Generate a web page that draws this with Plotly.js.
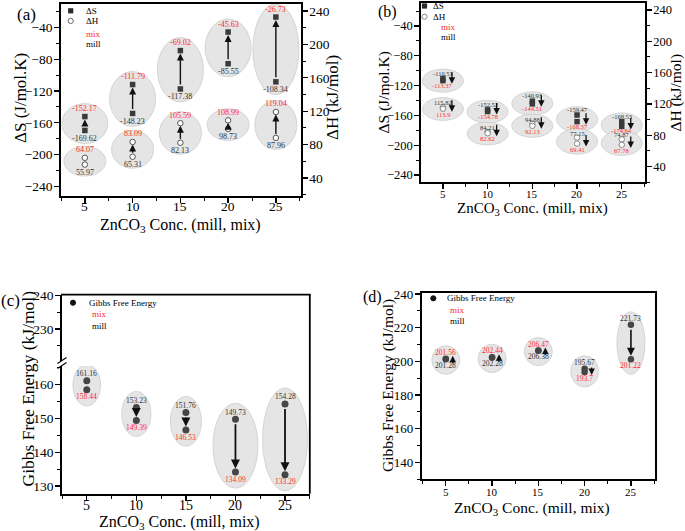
<!DOCTYPE html>
<html><head><meta charset="utf-8">
<script src="https://cdn.plot.ly/plotly-3.0.1.min.js"></script>
<style>html,body{margin:0;padding:0;background:#fff}#chart{width:685px;height:531px}</style>
</head><body><div id="chart"></div>
<script>
// ---------------- DATA ----------------
const conc = [5, 10, 15, 20, 25];
const xTickVals = [5, 10, 15, 20, 25];
// (a)
const aDS_mill = [-169.62, -148.23, -117.38, -85.55, -108.34];
const aDS_mix  = [-152.17, -111.79, -69.02, -45.63, -26.73];
const aDH_mill = [55.97, 65.31, 82.13, 98.73, 87.96];
const aDH_mix  = [64.07, 83.09, 105.59, 108.99, 119.04];
// (b)
const bDS_mill = [-110.53, -152.52, -140.93, -159.47, -168.53];
const bDS_mix  = [-113.37, -154.78, -144.51, -168.37, -174.84];
const bDH_mill = [115.82, 84.21, 94.88, 77.15, 74.87];
const bDH_mix  = [113.9, 82.62, 92.13, 69.41, 67.78];
// (c)
const cG_mill = [161.16, 153.23, 151.76, 149.73, 154.28];
const cG_mix  = [158.44, 149.39, 146.53, 134.09, 133.29];
// (d)
const dG_mill = [201.28, 202.28, 206.38, 195.67, 221.73];
const dG_mix  = [201.56, 202.44, 206.47, 193.7, 201.22];

// ---------------- LAYOUT HELPERS ----------------
const W = 685, H = 531;
const FONT = '"Liberation Serif", "Times New Roman", Times, serif';
const MIXC = '#ff2a2a', MILLC = '#333333';
const fx = p => p / W;
const fy = p => 1 - p / H;

const PA = {x0:61, x1:300.7, top:4, bot:195.8, xr:[2.5,27.6], yl:[-252,-10.3], yr:[18.5,248.5]};
const PB = {x0:421, x1:645, top:2.7, bot:182.3, xr:[2.55,27.6], yl:[-249.8,-8.7], yr:[20,249.3]};
const PC = {x0:62, x1:309.8, top:294.6, hiBot:361, loTop:366, bot:493.7, xr:[2.5,27.5], ylo:[127.7,165.5], yhi:[220.5,240.2]};
const PD = {x0:421.7, x1:655, top:292.7, bot:479.3, xr:[2.4,27.6], y:[130,240.8]};

const sc = (r, len) => len / (r[1] - r[0]);   // px per unit

const common = {showgrid:false, zeroline:false, showline:true, linecolor:'#000', linewidth:1.8,
  ticks:'outside', ticklen:5, tickwidth:1.3, tickcolor:'#000', fixedrange:true};

function xAx(P, anchor, mirror) {
  return Object.assign({}, common, {domain:[fx(P.x0), fx(P.x1)], range:P.xr, anchor:anchor,
    tickmode:'array', tickvals:xTickVals, showticklabels:false,
    minor:{tickmode:'linear', tick0:0, dtick:2.5, ticks:'outside', ticklen:3, tickwidth:1, tickcolor:'#000'},
    mirror:mirror});
}
function yAx(dom, range, anchor, dtick, mdt, fs, extra) {
  return Object.assign({}, common, {domain:dom, range:range, anchor:anchor, tickmode:'linear', tick0:0, dtick:dtick,
    ticklabelstandoff:-1,
    minor:{tickmode:'linear', tick0:0, dtick:mdt, ticks:'outside', ticklen:3, tickwidth:1, tickcolor:'#000'},
    tickfont:{family:FONT, size:fs, color:'#000'}}, extra || {});
}

const shapes = [];
const ann = [];

function ellipse(xref, yref, xc, v1, v2, sx, sy, hwPx, spanF, padPx, shiftPx) {
  const lo = Math.min(v1, v2), hi = Math.max(v1, v2);
  const spanPx = (hi - lo) * sy;
  const halfPx = spanF * spanPx / 2 + padPx;
  const mid = (lo + hi) / 2 - (shiftPx || 0) / sy;
  const hw = (typeof hwPx === 'function' ? hwPx(spanPx) : hwPx) / sx;
  shapes.push({type:'circle', xref:xref, yref:yref, x0:xc - hw, x1:xc + hw,
    y0:mid - halfPx / sy, y1:mid + halfPx / sy,
    fillcolor:'#e5e5e5', line:{color:'#cdcdcd', width:0.8}, layer:'below'});
}
function labels(xref, yref, xs, mill, mix, fs, up, down) {
  xs.forEach((x, i) => {
    const millUp = mill[i] >= mix[i];
    ann.push({xref:xref, yref:yref, x:x, y:mill[i], text:String(mill[i]), showarrow:false,
      font:{family:FONT, size:fs, color:MILLC}, yshift: millUp ? up : -down});
    ann.push({xref:xref, yref:yref, x:x, y:mix[i], text:String(mix[i]), showarrow:false,
      font:{family:FONT, size:fs, color:MIXC}, yshift: millUp ? -down : up});
  });
}
function linkArrows(xref, yref, xs, mill, mix, w, so) {
  xs.forEach((x, i) => {
    ann.push({xref:xref, yref:yref, axref:xref, ayref:yref, x:x, y:mix[i], ax:x, ay:mill[i], text:'',
      showarrow:true, arrowhead:2, arrowsize:1, arrowwidth:w, arrowcolor:'#111', standoff:so, startstandoff:so});
  });
}
function sideArrows(xref, yref, xs, mill, mix, xsh, len) {
  xs.forEach((x, i) => {
    const s = mix[i] > mill[i] ? 1 : -1;
    ann.push({xref:xref, yref:yref, x:x, y:mix[i], ax:0, ay:s * len, text:'', xshift:xsh, yshift:s * 3,
      showarrow:true, arrowhead:2, arrowsize:1, arrowwidth:1.3, arrowcolor:'#111'});
  });
}
function xTickLabels(xref, yPx, fs) {
  xTickVals.forEach(v => {
    ann.push({xref:xref, yref:'paper', x:v, y:fy(yPx), text:String(v), showarrow:false,
      xanchor:'center', yanchor:'middle', font:{family:FONT, size:fs, color:'#000'}});
  });
}

// ----- scales -----
const aSx = sc(PA.xr, PA.x1 - PA.x0), aSyL = sc(PA.yl, PA.bot - PA.top), aSyR = sc(PA.yr, PA.bot - PA.top);
const bSx = sc(PB.xr, PB.x1 - PB.x0), bSyL = sc(PB.yl, PB.bot - PB.top), bSyR = sc(PB.yr, PB.bot - PB.top);
const cSx = sc(PC.xr, PC.x1 - PC.x0), cSy = sc(PC.ylo, PC.bot - PC.loTop);
const dSx = sc(PD.xr, PD.x1 - PD.x0), dSy = sc(PD.y, PD.bot - PD.top);

// (a)
conc.forEach((x, i) => {
  ellipse('x', 'y', x, aDS_mill[i], aDS_mix[i], aSx, aSyL, 23, 1, 13, 0);
  ellipse('x', 'y2', x, aDH_mill[i], aDH_mix[i], aSx, aSyR, 21, 1, 11.5, 0);
});
labels('x', 'y', conc, aDS_mill, aDS_mix, 8, 8, 8);
labels('x', 'y2', conc, aDH_mill, aDH_mix, 8, 8, 8);
linkArrows('x', 'y', conc, aDS_mill, aDS_mix, 1.4, 3);
linkArrows('x', 'y2', conc, aDH_mill, aDH_mix, 1.4, 2.5);
// (b)
conc.forEach((x, i) => {
  ellipse('x2', 'y3', x, bDS_mill[i], bDS_mix[i], bSx, bSyL, 20.5, 0.5, 11, 1);
  ellipse('x2', 'y4', x, bDH_mill[i], bDH_mix[i], bSx, bSyR, 20.5, 0.5, 11, 1);
});
labels('x2', 'y3', conc, bDS_mill, bDS_mix, 6.5, 5.5, 4.5);
labels('x2', 'y4', conc, bDH_mill, bDH_mix, 6.5, 4.5, 5.5);
sideArrows('x2', 'y3', conc, bDS_mill, bDS_mix, 9, 13);
sideArrows('x2', 'y4', conc, bDH_mill, bDH_mix, 9, 13);
// (c)
conc.forEach((x, i) => {
  ellipse('x3', 'y5', x, cG_mill[i], cG_mix[i], cSx, cSy, s => Math.min(12 + 0.2 * s, 22.5), 1, 16, 0);
});
labels('x3', 'y5', conc, cG_mill, cG_mix, 7.5, 7, 7);
linkArrows('x3', 'y5', conc, cG_mill, cG_mix, 1.8, 3.5);
// (d)
conc.forEach((x, i) => {
  ellipse('x4', 'y7', x, dG_mill[i], dG_mix[i], dSx, dSy, 14, 1, 14, 1);
});
labels('x4', 'y7', conc, dG_mill, dG_mix, 7.5, 6.5, 6);
conc.forEach((x, i) => {
  if (Math.abs(dG_mill[i] - dG_mix[i]) * dSy > 15) {
    linkArrows('x4', 'y7', [x], [dG_mill[i]], [dG_mix[i]], 1.6, 3.5);
  } else {
    sideArrows('x4', 'y7', [x], [dG_mill[i]], [dG_mix[i]], 7, 9);
  }
});

// x tick labels
xTickLabels('x', 206, 13.5);
xTickLabels('x2', 194, 11);
xTickLabels('x3', 505, 14);
xTickLabels('x4', 491.7, 11);

// ----- text annotations (paper) -----
function ptxt(x, y, text, size, opts) {
  ann.push(Object.assign({xref:'paper', yref:'paper', x:fx(x), y:fy(y), text:text, showarrow:false,
    xanchor:'center', yanchor:'middle', font:{family:FONT, size:size, color:'#000'}}, opts || {}));
}
// panel labels
ptxt(26, 15, '(a)', 17); ptxt(387.5, 12, '(b)', 16); ptxt(10, 300, '(c)', 17); ptxt(372.5, 297, '(d)', 16);
// axis titles
const XT = 'ZnCO<sub>3</sub> Conc. (mill, mix)';
ptxt(180, 225, XT, 16); ptxt(532, 209, XT, 15); ptxt(179, 522, XT, 16); ptxt(532, 508, XT, 15.5);
ptxt(20, 98, 'ΔS (J/mol.K)', 17, {textangle:-90});
ptxt(332, 98, 'ΔH (kJ/mol)', 17, {textangle:-90});
ptxt(383, 92.5, 'ΔS (J/mol.K)', 15.5, {textangle:-90});
ptxt(675, 92.5, 'ΔH (kJ/mol)', 15.5, {textangle:-90});
ptxt(27, 388.5, 'Gibbs Free Energy (kJ/mol)', 17.5, {textangle:-90});
ptxt(388, 386, 'Gibbs Free Energy (kJ/mol)', 15.5, {textangle:-90});

// legends
function ltxt(x, y, text, color) {
  ptxt(x, y, text, 9, {xanchor:'left', font:{family:FONT, size:9, color:color}});
}
function lsq(cx, cy) {
  shapes.push({type:'rect', xref:'paper', yref:'paper', x0:fx(cx - 2.6), x1:fx(cx + 2.6), y0:fy(cy + 2.6), y1:fy(cy - 2.6),
    fillcolor:'#2a2a2a', line:{width:0}});
}
function lci(cx, cy, fill, col) {
  shapes.push({type:'circle', xref:'paper', yref:'paper', x0:fx(cx - 2.6), x1:fx(cx + 2.6), y0:fy(cy + 2.6), y1:fy(cy - 2.6),
    fillcolor:fill, line:{width:0.9, color:col}});
}
lsq(70.7, 10.8); ltxt(84, 10.8, 'ΔS', '#000');
lci(70.7, 20.9, '#fff', '#555'); ltxt(84, 20.9, 'ΔH', '#000');
ltxt(84, 33.7, 'mix', MIXC); ltxt(84, 43.8, 'mill', '#000');

lsq(424.5, 6); ltxt(431, 6, 'ΔS', '#000');
lci(424.5, 16.7, '#fff', '#777'); ltxt(431, 16.7, 'ΔH', '#000');
ltxt(439, 26.7, 'mix', MIXC); ltxt(439, 37.3, 'mill', '#000');

lci(73, 302.7, '#111', '#111'); ltxt(86.5, 302.7, 'Gibbs Free Energy', '#000');
ltxt(89.5, 313.8, 'mix', MIXC); ltxt(89.5, 325.6, 'mill', '#000');

lci(433.3, 298.3, '#111', '#111'); ltxt(445, 298.3, 'Gibbs Free Energy', '#000');
ltxt(448, 310, 'mix', MIXC); ltxt(448, 320.7, 'mill', '#000');

// (c) frame top/right + break marks
function pline(x0, y0, x1, y1, w) {
  shapes.push({type:'line', xref:'paper', yref:'paper', x0:fx(x0), y0:fy(y0), x1:fx(x1), y1:fy(y1), line:{color:'#000', width:w}});
}
pline(PC.x0 - 0.9, PC.top, PC.x1 + 0.9, PC.top, 1.8);
pline(PC.x1, PC.top, PC.x1, PC.bot, 1.8);
pline(57.5, 363.5, 66.5, 357.5, 1.2);
pline(57.5, 368.5, 66.5, 362.5, 1.2);

// ---------------- TRACES ----------------
const sq = {symbol:'square', size:5.5, color:'#3a3a3a'};
const oc = {symbol:'circle', size:5.5, color:'#fff', line:{color:'#555', width:1}};
const oc2 = {symbol:'circle', size:5.5, color:'#fff', line:{color:'#888', width:1}};
const gc = {symbol:'circle', size:7, color:'#454545'};
const gd = {symbol:'circle', size:6.5, color:'#454545'};
function tr(x, y, xa, ya, m) { return {type:'scatter', mode:'markers', x:x, y:y, xaxis:xa, yaxis:ya, marker:m, hoverinfo:'skip', cliponaxis:false}; }
const data = [
  tr(conc, aDS_mill, 'x', 'y', sq), tr(conc, aDS_mix, 'x', 'y', sq),
  tr(conc, aDH_mill, 'x', 'y2', oc), tr(conc, aDH_mix, 'x', 'y2', oc),
  tr(conc, bDS_mill, 'x2', 'y3', sq), tr(conc, bDS_mix, 'x2', 'y3', sq),
  tr(conc, bDH_mill, 'x2', 'y4', oc2), tr(conc, bDH_mix, 'x2', 'y4', oc2),
  tr(conc, cG_mill, 'x3', 'y5', gc), tr(conc, cG_mix, 'x3', 'y5', gc),
  tr(conc, dG_mill, 'x4', 'y7', gd), tr(conc, dG_mix, 'x4', 'y7', gd),
  {type:'scatter', mode:'markers', x:[], y:[], xaxis:'x3', yaxis:'y6', hoverinfo:'skip'}
];

const layout = {
  width:W, height:H, margin:{l:0, r:0, t:0, b:0, pad:0},
  paper_bgcolor:'#fff', plot_bgcolor:'rgba(0,0,0,0)', showlegend:false,
  font:{family:FONT, color:'#000'},
  xaxis: xAx(PA, 'y', true),
  yaxis: yAx([fy(PA.bot), fy(PA.top)], PA.yl, 'x', 40, 20, 13.5, {mirror:false}),
  yaxis2: yAx([fy(PA.bot), fy(PA.top)], PA.yr, 'x', 40, 20, 13.5, {overlaying:'y', side:'right'}),
  xaxis2: xAx(PB, 'y3', true),
  yaxis3: yAx([fy(PB.bot), fy(PB.top)], PB.yl, 'x2', 40, 20, 12.5, {}),
  yaxis4: yAx([fy(PB.bot), fy(PB.top)], PB.yr, 'x2', 40, 20, 12.5, {overlaying:'y3', side:'right'}),
  xaxis3: xAx(PC, 'y5', false),
  yaxis5: yAx([fy(PC.bot), fy(PC.loTop)], PC.ylo, 'x3', 10, 5, 13.5, {}),
  yaxis6: Object.assign(yAx([fy(PC.hiBot), fy(PC.top)], PC.yhi, 'x3', 10, 5, 13.5, {}),
            {tickmode:'array', tickvals:[230, 240],
             minor:{tickmode:'array', tickvals:[225, 235], ticks:'outside', ticklen:3, tickwidth:1, tickcolor:'#000'}}),
  xaxis4: xAx(PD, 'y7', true),
  yaxis7: yAx([fy(PD.bot), fy(PD.top)], PD.y, 'x4', 20, 10, 13, {mirror:true}),
  shapes: shapes,
  annotations: ann
};
Plotly.newPlot('chart', data, layout, {displayModeBar:false, staticPlot:true});
</script></body></html>
